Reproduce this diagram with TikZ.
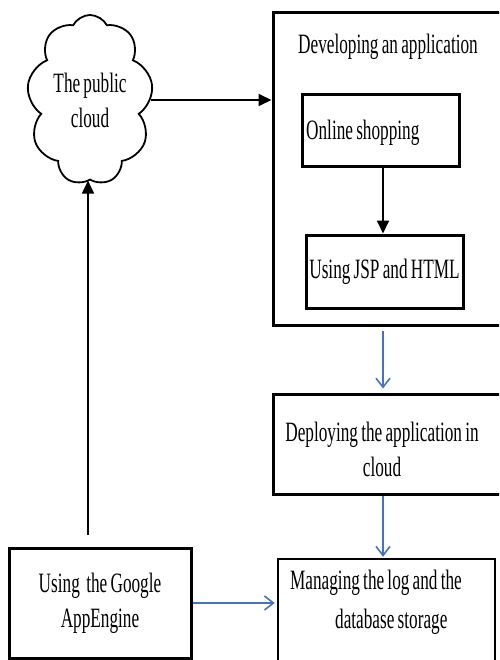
\documentclass[tikz,border=0pt]{standalone}
\usepackage{fontspec}
\setmainfont{Liberation Serif}[FakeStretch=0.615, WordSpace=0.75]
\usetikzlibrary{shapes.symbols,arrows.meta}
\definecolor{lineblue}{RGB}{68,114,196}
\begin{document}
\begin{tikzpicture}[x=1pt,y=-1pt,
  txt/.style={font=\fontsize{28}{35}\selectfont, inner sep=0pt, align=center},
  box/.style={draw=black, line width=3pt, rectangle},
  blk/.style={line width=1.8pt, -{Triangle[length=13pt,width=12pt]}},
  blu/.style={draw=lineblue, line width=1.6pt, -{Straight Barb[length=9pt,width=14pt]}}
]
\useasboundingbox (0,0) rectangle (499,660);
\fill[white] (0,0) rectangle (499,660);
\clip (0,0) rectangle (499,660);

% cloud
\node[cloud, draw, line width=1.8pt, cloud puffs=9, cloud puff arc=125, aspect=0.74,
      minimum width=126pt, minimum height=170pt, txt] (cloud) at (90,100) {The public\\cloud};

% developing block
\node[box, minimum width=247pt, minimum height=312pt] (outer) at (396.5,169) {};
\node[txt] (devtitle) at (388,47) {Developing an application};
\node[box, minimum width=157pt, minimum height=72pt] (online) at (380.5,131) {};
\node[txt, anchor=west] (onlinetext) at (306,133) {Online shopping};
\node[box, txt, minimum width=157pt, minimum height=73pt] (jsp) at (384.5,271.5) {Using JSP and HTML};

% deploying
\node[box, minimum width=247pt, minimum height=100pt] (deploy) at (396.5,444) {};
\node[txt] (deploytext) at (382,449) {Deploying the application in\\cloud};

% managing
\node[box, line width=2.5pt, minimum width=217pt, minimum height=140pt] (manage) at (386.5,629) {};
\node[txt, align=left, font=\fontsize{28}{39}\selectfont] (managetext) at (376,602)
  {Managing the log and the\\\hspace*{45pt}database storage};

% google
\node[box, txt, minimum width=182pt, minimum height=110pt] (google) at (100,603) {Using~ the Google\\AppEngine};

% connectors
\coordinate (col) at (383,0);
\coordinate (upstart) at (88,535);
\draw[blk] (cloud.east) -- (cloud.east -| outer.west);
\draw[blk] (upstart) -- (upstart |- cloud.south);
\draw[blk] (col |- online.south) -- (col |- jsp.north);
\draw[blu, shorten <=4pt, shorten >=4pt] (col |- outer.south) -- (col |- deploy.north);
\draw[blu, shorten >=1pt] (col |- deploy.south) -- (col |- manage.north);
\draw[blu, shorten >=2pt] (google.east) -- (google.east -| manage.west);
\end{tikzpicture}
\end{document}
